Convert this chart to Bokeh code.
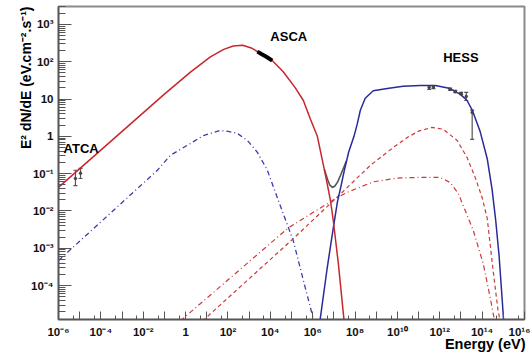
import math
from bokeh.plotting import figure
from bokeh.models import (Range1d, FixedTicker, CustomJSTickFormatter, Label, Title,
                          Whisker, ColumnDataSource, TeeHead)
from bokeh.embed import file_html
from bokeh.resources import INLINE

# ---- data (log10 of energy in eV, log10 of E^2 dN/dE) ----
sync_logE = [-6.00, -1.00, 0.23, 1.17, 1.80, 2.25, 2.70, 3.10, 3.43, 4.09, 4.61,
             5.18, 5.56, 5.90, 6.22, 6.59, 6.84, 6.97, 7.21, 7.49]
sync_logY = [-1.37, 1.13, 1.72, 2.13, 2.33, 2.42, 2.44, 2.37, 2.26, 2.03, 1.73,
             1.30, 0.96, 0.45, 0.00, -1.00, -1.72, -2.25, -3.40, -4.99]

ic_logE = [6.33, 6.69, 6.97, 7.17, 7.31, 7.50, 7.70, 7.95, 8.10, 8.25, 8.48, 8.86, 9.52,
           10.27, 11.08, 11.80, 12.49, 12.96, 13.29, 13.55, 13.91, 14.24, 14.47,
           14.64, 14.80, 14.94, 15.02]
ic_logY = [-5.00, -3.51, -2.47, -1.75, -1.40, -0.90, -0.42, 0.00, 0.32, 0.70, 1.02, 1.22, 1.28,
           1.34, 1.36, 1.36, 1.28, 1.13, 0.96, 0.68, 0.12, -0.60, -1.42,
           -2.25, -3.20, -4.32, -5.00]

total_logE = [6.55, 6.70, 6.80, 6.93, 7.05, 7.18, 7.31, 7.42, 7.52, 7.60]
total_logY = [-0.88, -1.15, -1.30, -1.37, -1.33, -1.22, -1.05, -0.90, -0.76, -0.66]

sync2_logE = [-6.00, -1.33, -0.72, 0.23, 0.84, 1.64, 2.02, 2.44, 2.92, 3.39, 3.86,
              4.38, 4.85, 5.08, 5.56, 6.08]
sync2_logY = [-3.33, -0.91, -0.51, -0.19, 0.02, 0.16, 0.13, 0.08, -0.11, -0.43, -0.91,
              -1.72, -2.44, -2.79, -3.86, -5.00]

icA_logE = [0.80, 5.07, 7.10, 8.72, 9.80, 10.50, 11.00, 11.64, 12.16, 12.82, 13.29,
            13.67, 14.00, 14.24, 14.52, 14.75, 14.85]
icA_logY = [-4.95, -2.75, -1.66, -0.78, -0.30, -0.02, 0.14, 0.24, 0.19, -0.11, -0.57,
            -1.10, -1.64, -2.20, -3.60, -4.67, -4.95]

icB_logE = [-0.25, 4.86, 7.10, 7.63, 8.86, 10.00, 11.08, 12.02, 12.49, 12.87, 13.20,
            13.58, 14.05, 14.38, 14.52, 14.60]
icB_logY = [-4.95, -2.45, -1.66, -1.50, -1.22, -1.12, -1.10, -1.10, -1.24, -1.53, -1.99,
            -2.52, -3.41, -4.32, -4.75, -4.95]

asca_logE = [3.39, 3.60, 3.85, 4.09]
asca_logY = [2.27, 2.20, 2.12, 2.03]

atca_logE = [-5.20, -4.96]
atca_logY = [-1.13, -0.99]
atca_lo = [-1.32, -1.13]
atca_hi = [-0.91, -0.86]

hess_logE = [11.50, 11.70, 12.49, 12.73, 13.01, 13.25, 13.53]
hess_logY = [1.31, 1.32, 1.26, 1.20, 1.15, 1.07, 0.64]
hess_lo = [1.26, 1.28, 1.23, 1.17, 1.12, 0.96, -0.08]
hess_hi = [1.36, 1.36, 1.29, 1.23, 1.18, 1.18, 0.70]

x_decades = list(range(-6, 17))
y_decades = list(range(-4, 4))

x_title = "Energy (eV)"
y_title = "E\u00b2 dN/dE (eV.cm\u207b\u00b2.s\u207b\u00b9)"

def pw(v):
    return [10.0 ** t for t in v]

FONT = "Liberation Sans"

p = figure(width=530, height=354, x_axis_type="log", y_axis_type="log",
           x_range=Range1d(1e-6, 1e16), y_range=Range1d(10 ** -4.91, 10 ** 3.48),
           output_backend="svg", toolbar_location=None,
           min_border_left=58, min_border_right=6, min_border_top=6, min_border_bottom=35)
p.background_fill_color = "white"
p.border_fill_color = "white"
p.outline_line_color = "#8a8a8a"
p.outline_line_width = 2
p.xgrid.grid_line_color = None
p.ygrid.grid_line_color = None

sup_js = """
const m = {"-":"\u207b","0":"\u2070","1":"\u00b9","2":"\u00b2","3":"\u00b3","4":"\u2074",
           "5":"\u2075","6":"\u2076","7":"\u2077","8":"\u2078","9":"\u2079"};
const e = Math.round(Math.log10(tick));
"""
xfmt = CustomJSTickFormatter(code=sup_js + """
if (e % 2 !== 0) return "";
if (e === 0) return "1";
if (e === 1) return "10";
return "10" + String(e).split("").map(c => m[c]).join("");
""")
yfmt = CustomJSTickFormatter(code=sup_js + """
if (e === 0) return "1";
if (e === 1) return "10";
return "10" + String(e).split("").map(c => m[c]).join("");
""")

x_minor = [5 * 10.0 ** d for d in range(-6, 16)]
y_minor = [k * 10.0 ** d for d in range(-5, 4) for k in range(2, 10)]
p.xaxis.ticker = FixedTicker(ticks=pw(x_decades), minor_ticks=x_minor)
p.yaxis.ticker = FixedTicker(ticks=pw(y_decades), minor_ticks=y_minor)
p.xaxis.formatter = xfmt
p.yaxis.formatter = yfmt

for ax in (p.xaxis, p.yaxis):
    ax.axis_line_color = "#555555"
    ax.axis_line_width = 1.5
    ax.major_tick_line_color = "#555555"
    ax.minor_tick_line_color = "#555555"
    ax.major_tick_out = 0
    ax.minor_tick_out = 0
    ax.axis_label_standoff = 0
    ax.major_label_text_font = FONT
    ax.major_label_text_font_style = "bold"
    ax.major_label_text_font_size = "11.5px"
    ax.major_label_text_color = "#111111"
p.xaxis.major_tick_in = 8
p.xaxis.minor_tick_in = 4
p.yaxis.major_tick_in = 13
p.yaxis.minor_tick_in = 7
p.xaxis.major_label_standoff = 6
p.yaxis.major_label_standoff = 5

# ---- axis titles (side panels, so they are not clipped by the frame) ----
def make_title(txt, size, valign, standoff, offset):
    try:
        return Title(text=txt, align="right", vertical_align=valign, text_font=FONT,
                     text_font_style="bold", text_font_size=size, text_color="black",
                     standoff=standoff, offset=offset)
    except Exception:
        return Title(text=txt, align="right", vertical_align=valign, text_font=FONT,
                     text_font_style="bold", text_font_size=size, text_color="black",
                     standoff=0, offset=offset)

p.add_layout(make_title(x_title, "14.5px", "top", -10, -1), "below")
p.add_layout(make_title(y_title, "14px", "bottom", -10, 0), "left")

# ---- curves ----
p.line(pw(sync2_logE), pw(sync2_logY), line_color="#3c3ca8", line_width=1.3, line_dash="5 3 1 3")
p.line(pw(icB_logE), pw(icB_logY), line_color="#cc3a3a", line_width=1.2, line_dash="5 3 1 3")
p.line(pw(icA_logE), pw(icA_logY), line_color="#cc3a3a", line_width=1.2, line_dash="4 3")
p.line(pw(total_logE), pw(total_logY), line_color="#555555", line_width=1.6)
p.line(pw(ic_logE), pw(ic_logY), line_color="#2a2a9a", line_width=1.5)
p.line(pw(sync_logE), pw(sync_logY), line_color="#c8262c", line_width=1.5)
p.line(pw(asca_logE), pw(asca_logY), line_color="black", line_width=4)

# ---- data points ----
atca_src = ColumnDataSource(dict(x=pw(atca_logE), y=pw(atca_logY), lo=pw(atca_lo), hi=pw(atca_hi)))
hess_src = ColumnDataSource(dict(x=pw(hess_logE), y=pw(hess_logY), lo=pw(hess_lo), hi=pw(hess_hi)))
for src in (atca_src, hess_src):
    w = Whisker(source=src, base="x", lower="lo", upper="hi", dimension="height",
                line_color="#555555", line_width=1.2,
                lower_head=TeeHead(size=4, line_color="#555555", line_width=1.2),
                upper_head=TeeHead(size=4, line_color="#555555", line_width=1.2))
    p.add_layout(w)
    p.scatter("x", "y", source=src, size=2.5, color="#444444")

# ---- text ----
def tag(txt, le, ly):
    p.add_layout(Label(x=10 ** le, y=10 ** ly, text=txt, text_font=FONT,
                       text_font_style="bold", text_font_size="13px",
                       text_align="left", text_baseline="middle", text_color="black"))

tag("ATCA", -5.76, -0.32)
tag("ASCA", 4.0, 2.68)
tag("HESS", 12.16, 2.12)

open("out.html", "w").write(file_html(p, INLINE))
